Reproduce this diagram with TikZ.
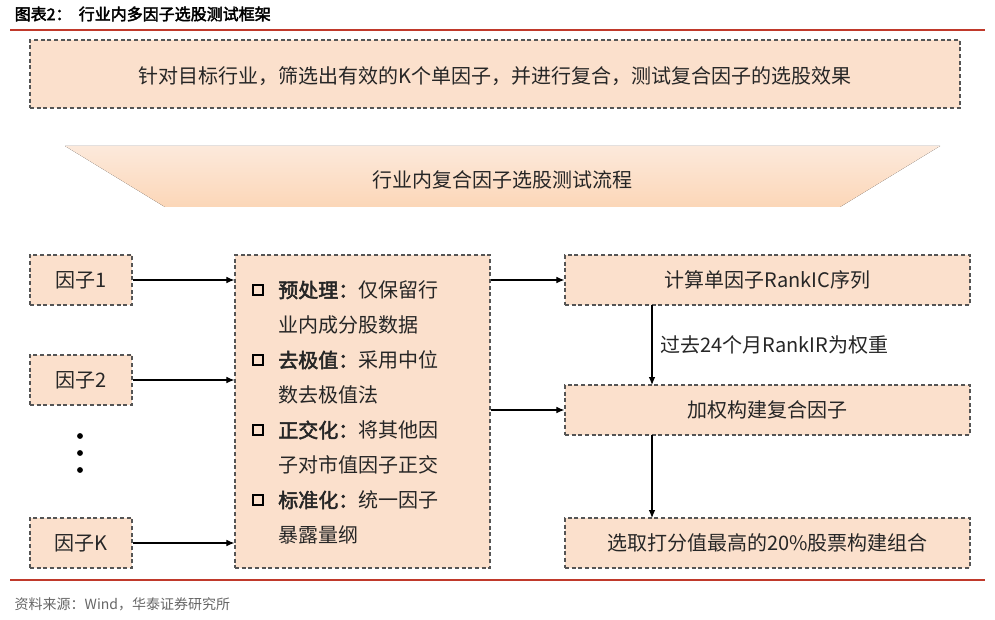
\documentclass[tikz,border=0pt]{standalone}
\usepackage{fontspec}
\setmainfont{Noto Sans CJK SC}[AutoFakeBold=2.5]
\usetikzlibrary{arrows.meta}
\definecolor{peach}{HTML}{FBE0CC}
\definecolor{bord}{HTML}{555555}
\definecolor{hred}{HTML}{C0392B}
\tikzset{
  box/.style={draw=bord, densely dashed, line width=0.9pt, fill=peach, inner sep=0pt},
  txt/.style={font=\fontsize{15}{17}\selectfont, text=black!85, inner sep=0pt},
  arr/.style={-{Latex[length=6pt,width=5pt]}, line width=0.8pt},
  sq/.style={draw=black, line width=1.6pt, minimum size=8pt, inner sep=0pt}
}
\begin{document}
\begin{tikzpicture}[x=0.75pt,y=-0.75pt]
\useasboundingbox (0,0) rectangle (995,620);
\node[anchor=west, font=\bfseries\fontsize{12}{14}\selectfont] (title) at (10,14) {图表2：\ \ 行业内多因子选股测试框架};
\draw[hred, line width=1.2pt] (10,30) -- (985,30);
\node[box, minimum width=930*0.75pt, minimum height=68*0.75pt] (top) at (495,74) {};
\node[txt] (toptxt) at (495,76) {针对目标行业，筛选出有效的K个单因子，并进行复合，测试复合因子的选股效果};
\fill[top color=peach!70, bottom color=peach!90!orange] (65,146) -- (940,146) -- (840,207) -- (165,207) -- cycle;
\node[txt] (ban) at (502,180) {行业内复合因子选股测试流程};
% left boxes
\node[box, minimum width=102*0.75pt, minimum height=50*0.75pt] (f1) at (81,280) {};
\node[txt] at (f1) {因子1};
\node[box, minimum width=102*0.75pt, minimum height=50*0.75pt] (f2) at (81,380) {};
\node[txt] at (f2) {因子2};
\node[box, minimum width=102*0.75pt, minimum height=50*0.75pt] (fk) at (81,543) {};
\node[txt] at (fk) {因子K};
\foreach \yy/\n in {436/a,453/b,470/c}{\fill (80,\yy) circle (2.2pt) coordinate (dot\n);}
% middle
\node[box, minimum width=255*0.75pt, minimum height=313*0.75pt] (mid) at (362.5,411.5) {};
\foreach \yy [count=\i] in {290,360,430,500}{
  \node[sq] (sq\i) at (258,\yy) {};
}
\node[txt, anchor=west] (l1) at (278,290) {\textbf{预处理：}仅保留行};
\node[txt, anchor=west] (l2) at (278,325) {业内成分股数据};
\node[txt, anchor=west] (l3) at (278,360) {\textbf{去极值：}采用中位};
\node[txt, anchor=west] (l4) at (278,395) {数去极值法};
\node[txt, anchor=west] (l5) at (278,430) {\textbf{正交化：}将其他因};
\node[txt, anchor=west] (l6) at (278,465) {子对市值因子正交};
\node[txt, anchor=west] (l7) at (278,500) {\textbf{标准化：}统一因子};
\node[txt, anchor=west] (l8) at (278,535) {暴露量纲};
% right
\node[box, minimum width=405*0.75pt, minimum height=50*0.75pt] (r1) at (767.5,280) {};
\node[txt] at (r1) {计算单因子RankIC序列};
\node[box, minimum width=405*0.75pt, minimum height=50*0.75pt] (r2) at (767.5,410) {};
\node[txt] at (r2) {加权构建复合因子};
\node[box, minimum width=405*0.75pt, minimum height=50*0.75pt] (r3) at (767.5,543) {};
\node[txt] at (r3) {选取打分值最高的20\%股票构建组合};
% arrows
\draw[arr] (f1.east) -- (f1.east -| mid.west);
\draw[arr] (f2.east) -- (f2.east -| mid.west);
\draw[arr] (fk.east) -- (fk.east -| mid.west);
\draw[arr] (mid.east |- r1.west) -- (r1.west);
\draw[arr] (mid.east |- r2.west) -- (r2.west);
\draw[arr] (652,305) -- (652,385) node[midway, right=6pt, txt] (lab) {过去24个月RankIR为权重};
\draw[arr] (652,435) -- (652,518);
\draw[hred, line width=1.2pt] (10,580) -- (985,580);
\node[anchor=west, text=black!60, font=\fontsize{10.5}{12}\selectfont] (src) at (10,604) {资料来源：Wind，华泰证券研究所};
\end{tikzpicture}
\end{document}
